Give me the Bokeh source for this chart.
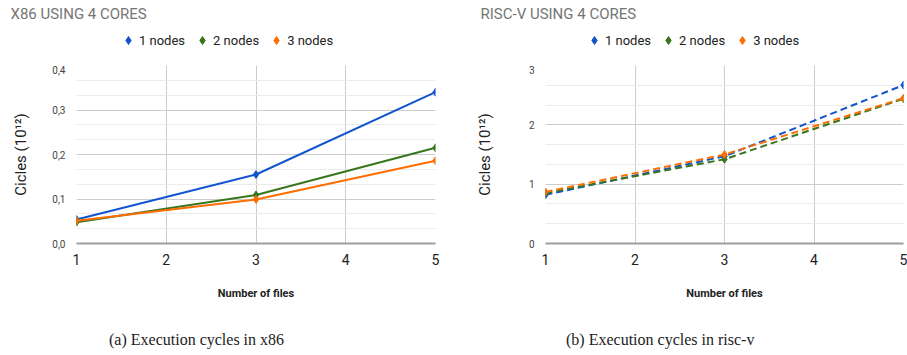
from bokeh.plotting import figure
from bokeh.models import (Range1d, SingleIntervalTicker, FixedTicker, Legend, LegendItem,
                          Label, Div, CustomJSTickFormatter, ColumnDataSource)
from bokeh.layouts import row, column
from bokeh.embed import file_html
from bokeh.resources import INLINE

# ---- data ----
files = [1, 3, 5]
series_names = ["1 nodes", "2 nodes", "3 nodes"]
x86_1 = [0.054, 0.155, 0.340]
x86_2 = [0.048, 0.109, 0.215]
x86_3 = [0.051, 0.099, 0.186]
riscv_1 = [0.82, 1.47, 2.67]
riscv_2 = [0.85, 1.42, 2.44]
riscv_3 = [0.87, 1.50, 2.45]
x_ticks = [1, 2, 3, 4, 5]
titles = ["X86 USING 4 CORES", "RISC-V USING 4 CORES"]
captions = ["(a) Execution cycles in x86", "(b) Execution cycles in risc-v"]
colors = ["#1155cc", "#38761d", "#ff6d01"]

FONT = "Roboto"
TOP_H = 65


def make_header(title, sources, width, title_x, legend_x):
    # header strip: title + legend (the legend's scatter renderers share the chart data,
    # but this strip's ranges keep the points themselves out of view)
    h = figure(width=width, height=TOP_H, output_backend="svg", toolbar_location=None,
               x_range=Range1d(100, 101), y_range=Range1d(100, 101),
               x_axis_type=None, y_axis_type=None,
               min_border_left=0, min_border_right=0, min_border_top=0, min_border_bottom=0)
    h.outline_line_color = None
    h.xgrid.visible = False
    h.ygrid.visible = False
    items = []
    for name, src, c in zip(series_names, sources, colors):
        s = h.scatter("x", "y", source=src, marker="diamond", size=10, fill_color=c, line_color=c)
        items.append(LegendItem(label=name, renderers=[s]))
    legend = Legend(items=items, orientation="horizontal", location=(legend_x, 15),
                    padding=0, margin=0, spacing=7, glyph_width=20, glyph_height=20,
                    label_standoff=1, label_text_font=FONT, label_text_font_size="13px",
                    label_text_color="#222222", border_line_color=None,
                    background_fill_color=None, label_text_baseline="middle")
    h.add_layout(legend, "center")
    t = Label(x=title_x, y=TOP_H - 13, x_units="screen", y_units="screen", text=title,
              text_font=FONT, text_font_size="15px", text_color="#757575",
              text_baseline="middle")
    h.add_layout(t)
    return h


def make_chart(sources, ymax, interval, dashed, width, bl, br, fmt):
    p = figure(width=width, height=259, output_backend="svg", toolbar_location=None,
               x_range=Range1d(1, 5), y_range=Range1d(0, ymax),
               min_border_left=bl, min_border_right=br, min_border_top=0, min_border_bottom=81)
    p.outline_line_color = None
    p.background_fill_color = "white"
    p.border_fill_color = "white"

    p.xaxis.ticker = FixedTicker(ticks=x_ticks)
    p.xgrid.ticker = FixedTicker(ticks=x_ticks)
    p.yaxis.ticker = SingleIntervalTicker(interval=interval, num_minor_ticks=3)
    p.ygrid.ticker = SingleIntervalTicker(interval=interval, num_minor_ticks=3)
    p.xgrid.grid_line_color = "#cccccc"
    p.ygrid.grid_line_color = "#cccccc"
    p.ygrid.minor_grid_line_color = "#ebebeb"

    if fmt:
        p.yaxis.formatter = CustomJSTickFormatter(code="return tick.toFixed(1).replace('.', ',');")

    p.yaxis.axis_line_color = None
    p.yaxis.major_tick_line_color = None
    p.yaxis.minor_tick_line_color = None
    p.yaxis.major_tick_out = 0
    p.yaxis.minor_tick_out = 0
    p.yaxis.major_label_text_font = FONT
    p.yaxis.major_label_text_font_size = "10px"
    p.yaxis.major_label_text_color = "#444444"
    p.yaxis.major_label_standoff = 11
    p.yaxis.axis_label = "Cicles (10¹²)"
    p.yaxis.axis_label_text_font = FONT
    p.yaxis.axis_label_text_font_size = "15px"
    p.yaxis.axis_label_text_font_style = "normal"
    p.yaxis.axis_label_text_color = "#222222"
    p.yaxis.axis_label_standoff = 19 if fmt else 32

    p.xaxis.axis_line_color = "#9e9e9e"
    p.xaxis.axis_line_width = 2
    p.xaxis.major_tick_line_color = None
    p.xaxis.minor_tick_line_color = None
    p.xaxis.major_label_text_font = FONT
    p.xaxis.major_label_text_font_size = "14px"
    p.xaxis.major_label_text_color = "#222222"
    p.xaxis.major_label_standoff = 4
    p.xaxis.axis_label = "Number of files"
    p.xaxis.axis_label_text_font = FONT
    p.xaxis.axis_label_text_font_size = "11px"
    p.xaxis.axis_label_text_font_style = "bold"
    p.xaxis.axis_label_text_color = "#222222"
    p.xaxis.axis_label_standoff = 19

    for src, c in zip(sources, colors):
        if dashed:
            p.line("x", "y", source=src, line_color=c, line_width=2, line_dash="7 4")
        else:
            p.line("x", "y", source=src, line_color=c, line_width=2)
        p.scatter("x", "y", source=src, marker="diamond", size=8, fill_color=c, line_color=c)
    return p


src_a = [ColumnDataSource(dict(x=files, y=y)) for y in (x86_1, x86_2, x86_3)]
src_b = [ColumnDataSource(dict(x=files, y=y)) for y in (riscv_1, riscv_2, riscv_3)]

h1 = make_header(titles[0], src_a, 453, 10, 118)
h2 = make_header(titles[1], src_b, 454, 27, 131)
p1 = make_chart(src_a, 0.4, 0.1, False, 453, 76, 18, True)
p2 = make_chart(src_b, 3, 1, True, 454, 92, 4, False)

CAP = "font-family:'Liberation Serif';font-size:16px;color:#222;white-space:nowrap;padding-left:"
d1 = Div(width=453, text="<div style=\"" + CAP + "104px\">" + captions[0] + "</div>")
d2 = Div(width=454, text="<div style=\"" + CAP + "98px\">" + captions[1] + "</div>")

layout = column(row(h1, h2), row(p1, p2), row(d1, d2))
open("out.html", "w").write(file_html(layout, INLINE))
